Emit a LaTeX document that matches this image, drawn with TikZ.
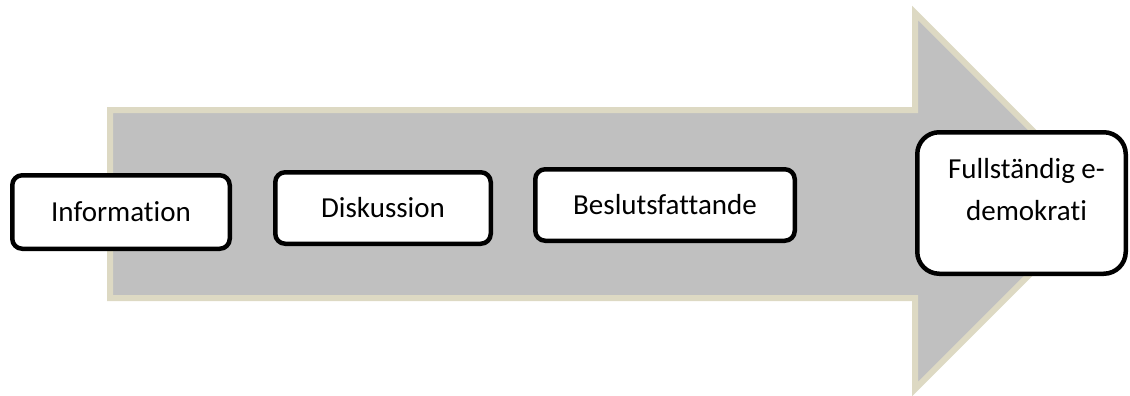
\documentclass[tikz,border=0pt]{standalone}
\usepackage{fontspec}
\setmainfont[Ligatures={NoCommon}]{Carlito}
\definecolor{arrowgray}{HTML}{C0C0C0}
\definecolor{arrowedge}{HTML}{DDD9C3}
\begin{document}
\begin{tikzpicture}[x=1pt,y=-1pt,
  stagebox/.style={draw=black, fill=white, line width=4.5pt, rounded corners=10pt,
    inner sep=0pt, font=\fontsize{29}{42}\selectfont, text height=19pt, text depth=1pt, align=center},
  bigarrow/.style={fill=arrowgray, draw=arrowedge, line width=6pt, line join=miter}]
\useasboundingbox (0,0) rectangle (1130,396);
\path[bigarrow] (110,110) -- (915,110) -- (915,13) -- (1103,201) -- (915,389) -- (915,298) -- (110,298) -- cycle;
\node[stagebox, minimum width=217.5pt, minimum height=73.5pt] (info) at (121,212) {Information};
\node[stagebox, minimum width=215.5pt, minimum height=71.5pt] (disk) at (383,208) {Diskussion};
\node[stagebox, minimum width=259.5pt, minimum height=71.5pt] (besl) at (665,205) {Beslutsfattande};
\node[draw=black, fill=white, line width=4.5pt, rounded corners=22pt, inner sep=0pt,
  minimum width=208.5pt, minimum height=141.5pt] (full) at (1021.5,203)
  {\parbox[c][90pt][t]{200pt}{\fontsize{29}{42}\selectfont\centering\leftskip=10pt plus 1fil Fullständig e-\\demokrati}};
\end{tikzpicture}
\end{document}
